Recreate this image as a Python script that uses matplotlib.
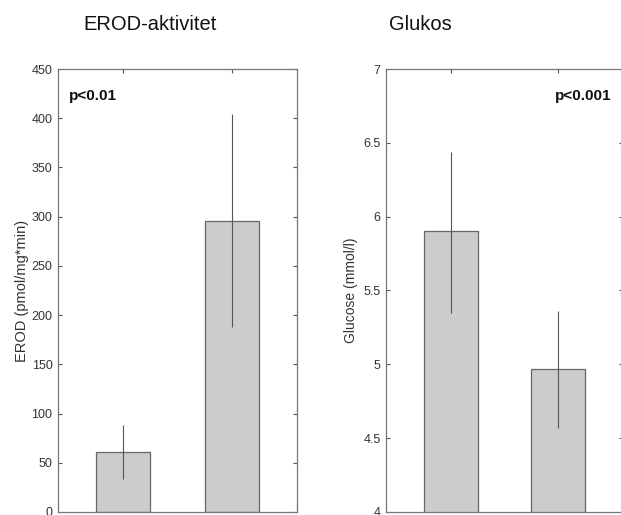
import matplotlib
matplotlib.use("Agg")
import matplotlib.pyplot as plt
from matplotlib import font_manager

groups = [1, 2]
erod_vals = [61, 296]
erod_err_low = [27, 108]
erod_err_high = [27, 108]
glu_vals = [5.90, 4.97]
glu_err_low = [0.55, 0.40]
glu_err_high = [0.54, 0.39]

erod_ticks = [0, 50, 100, 150, 200, 250, 300, 350, 400, 450]
glu_ticks = [4, 4.5, 5, 5.5, 6, 6.5, 7]
glu_ticklabels = ["4", "4.5", "5", "5.5", "6", "6.5", "7"]

names = {f.name for f in font_manager.fontManager.ttflist}
title_font = "Liberation Sans Narrow" if "Liberation Sans Narrow" in names else "Liberation Sans"

fig = plt.figure(figsize=(6.21, 5.15), dpi=100)
W, H = 621, 515

def setup(ax, ylim, ticks, labels):
    ax.set_xlim(0.4, 2.6)
    ax.set_ylim(*ylim)
    ax.set_yticks(ticks)
    ax.set_yticklabels(labels)
    ax.set_xticks(groups)
    ax.tick_params(axis="x", direction="in", bottom=False, top=True,
                   labelbottom=False, length=3, color="#555555")
    ax.tick_params(axis="y", direction="in", left=True, right=True,
                   length=3, labelsize=9, labelcolor="#333333", color="#555555", pad=4)
    for s in ax.spines.values():
        s.set_color("#777777")
        s.set_linewidth(0.9)
    for lab in ax.get_yticklabels():
        lab.set_fontfamily("Liberation Sans")

ax1 = fig.add_axes([58 / W, 3 / H, 239 / W, 443 / H])
ax1.bar(groups, erod_vals, width=0.5, color="#cccccc", edgecolor="#666666", linewidth=0.9, zorder=2)
ax1.errorbar(groups, erod_vals, yerr=[erod_err_low, erod_err_high], fmt="none",
             ecolor="#555555", elinewidth=0.8, capsize=0, zorder=3)
setup(ax1, (0, 450), erod_ticks, [str(t) for t in erod_ticks])
ax1.set_ylabel("EROD (pmol/mg*min)", fontsize=10.5, color="#333333", family="Liberation Sans", labelpad=2)
ax1.text(0.045, 0.955, "p<0.01", transform=ax1.transAxes, fontsize=11, fontweight="bold",
         family="Liberation Sans", va="top", ha="left", color="#111111")

ax2 = fig.add_axes([386 / W, 3 / H, 237 / W, 443 / H])
ax2.bar(groups, glu_vals, width=0.5, color="#cccccc", edgecolor="#666666", linewidth=0.9, zorder=2)
ax2.errorbar(groups, glu_vals, yerr=[glu_err_low, glu_err_high], fmt="none",
             ecolor="#555555", elinewidth=0.8, capsize=0, zorder=3)
setup(ax2, (4, 7), glu_ticks, glu_ticklabels)
ax2.set_ylabel("Glucose (mmol/l)", fontsize=10, color="#333333", family="Liberation Sans", labelpad=4)
ax2.text(0.95, 0.955, "p<0.001", transform=ax2.transAxes, fontsize=11, fontweight="bold",
         family="Liberation Sans", va="top", ha="right", color="#111111")

fig.text(150 / W, 1 - 25 / H, "EROD-aktivitet", ha="center", va="center", fontsize=14.5,
         family=title_font, color="#111111")
fig.text(420 / W, 1 - 25 / H, "Glukos", ha="center", va="center", fontsize=14.5,
         family=title_font, color="#111111")

fig.savefig("out.png", dpi=100)
